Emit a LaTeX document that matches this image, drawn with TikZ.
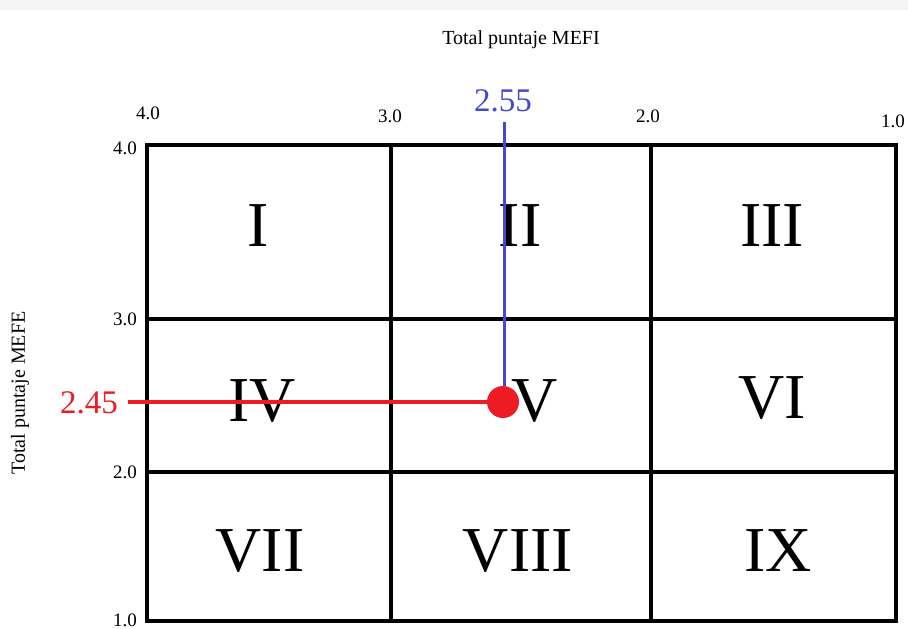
\documentclass[tikz,border=0pt]{standalone}
\usepackage{fontspec}
\setmainfont{Liberation Serif}
\definecolor{myred}{RGB}{237,28,36}
\definecolor{myblue}{RGB}{68,72,205}
\begin{document}
\begin{tikzpicture}[x=1pt,y=-1pt,
  gridline/.style={line width=4pt,black},
  roman/.style={font=\fontsize{64}{64}\selectfont,inner sep=0pt},
  tick/.style={font=\fontsize{19}{19}\selectfont,inner sep=0pt},
  axislab/.style={font=\fontsize{20}{20}\selectfont,inner sep=0pt},
  bigval/.style={font=\fontsize{33}{33}\selectfont,inner sep=0pt}]
\useasboundingbox (0,0) rectangle (908,629);
\fill[gray!8] (0,0) rectangle (908,10);
% grid
\draw[gridline] (147,145) rectangle (896,621);
\draw[gridline] (391,145) -- (391,621);
\draw[gridline] (651,145) -- (651,621);
\draw[gridline] (147,319) -- (896,319);
\draw[gridline] (147,472) -- (896,472);
% roman numerals
\node[roman] (r1) at (258,226) {I};
\node[roman] (r2) at (520,226) {II};
\node[roman] (r3) at (772,226) {III};
\node[roman] (r4) at (262,401) {IV};
\node[roman] (r5) at (535,401) {V};
\node[roman] (r6) at (772,398) {VI};
\node[roman] (r7) at (260,551) {VII};
\node[roman] (r8) at (518,551) {VIII};
\node[roman] (r9) at (778,551) {IX};
% axis titles
\node[axislab] (tx) at (521,40) {Total puntaje MEFI};
\node[axislab,rotate=90] (ty) at (20,393) {Total puntaje MEFE};
% top ticks
\node[tick] (t4) at (148,113) {4.0};
\node[tick] (t3) at (390,116) {3.0};
\node[tick] (t2) at (648,116) {2.0};
\node[tick] (t1) at (893,121) {1.0};
% left ticks
\node[tick] (l4) at (125,148) {4.0};
\node[tick] (l3) at (125,319) {3.0};
\node[tick] (l2) at (125,472) {2.0};
\node[tick] (l1) at (125,620) {1.0};
% values
\node[bigval,text=myblue] (bv) at (503,101) {2.55};
\node[bigval,text=myred] (rv) at (89,403) {2.45};
\coordinate (btop) at (504,122);
\coordinate (rleft) at (128,402);
\node[circle,fill=myred,minimum size=32pt,inner sep=0pt] (dot) at (503,402) {};
\draw[myblue,line width=3pt] (btop) -- (btop |- dot.north);
\draw[myred,line width=4pt] (rleft) -- (dot.center);
\end{tikzpicture}
\end{document}
